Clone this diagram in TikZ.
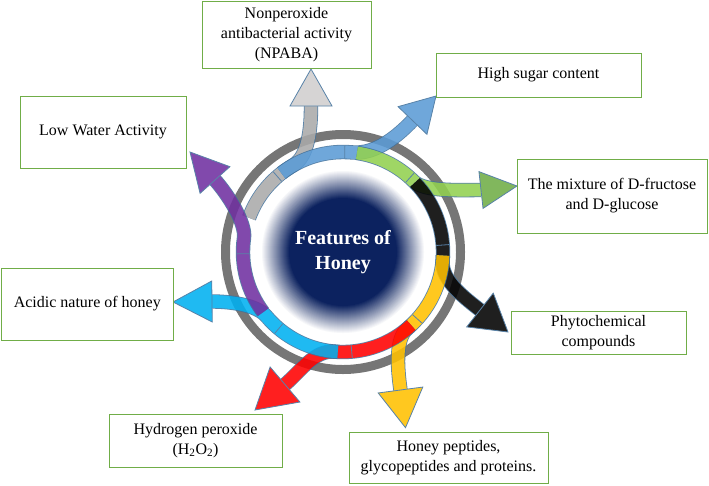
\documentclass[tikz,border=0pt]{standalone}
\usepackage{fontspec}
\setmainfont{Liberation Serif}
\usetikzlibrary{calc}
\definecolor{edgec}{RGB}{65,113,156}
\definecolor{boxc}{RGB}{112,173,71}
\definecolor{ringc}{RGB}{118,118,118}
\definecolor{navyc}{RGB}{12,34,95}
\definecolor{grayb}{RGB}{170,170,170}
\definecolor{grayh}{RGB}{208,206,206}
\definecolor{blueb}{RGB}{91,155,213}
\definecolor{greenb}{RGB}{146,208,80}
\definecolor{greenh}{RGB}{112,173,71}
\definecolor{yellowb}{RGB}{255,192,0}
\definecolor{redb}{RGB}{255,0,0}
\definecolor{cyanb}{RGB}{0,176,240}
\definecolor{purpleb}{RGB}{112,48,160}
\newcommand\arrbody[2]{\draw[edgec,line width=14.4pt] #2; \draw[#1,line width=12.8pt] #2;}
\newcommand\arrhead[4]{\filldraw[fill=#1,draw=edgec,line width=0.8pt,line join=miter] ($#2!#4!90:#3$) -- #3 -- ($#2!#4!-90:#3$) -- cycle;}
\newcommand\bandtick[1]{\draw[edgec,line width=0.8pt] ($(C)+(#1:93.6)$) -- ($(C)+(#1:106.4)$);}
\begin{document}
\begin{tikzpicture}[x=1pt,y=-1pt,
  box/.style={draw=boxc,line width=1pt,fill=white,align=center,inner sep=0pt,
    font=\fontsize{16}{20}\selectfont},
  arrgroup/.style={transparency group,opacity=0.88}]
\useasboundingbox (0,0) rectangle (709,485);
\coordinate (C) at (343,252);
% ring and glow
\draw[ringc,line width=9pt] (C) circle (117.5);
\foreach \r in {82,81,...,52} {
  \pgfmathsetmacro\p{min(100,(82-\r)/28*100)}
  \fill[navyc!\p!white] (C) circle (\r);
}
% gray
\begin{scope}[arrgroup]
\arrbody{grayb}{($(C)+(200:100)$) arc[start angle=200,end angle=240,radius=100] .. controls (308.6,156.4) and (311,128) .. (311,106)}
\bandtick{229}
\arrhead{grayh}{(311,106)}{(311,69)}{21pt}
\end{scope}
% blue
\begin{scope}[arrgroup]
\arrbody{blueb}{($(C)+(232:100)$) arc[start angle=232,end angle=275,radius=100] .. controls (376,155) and (398.7,134.9) .. (412.5,120.5)}
\bandtick{271}
\arrhead{blueb}{(412.5,120.5)}{(436,96)}{20pt}
\end{scope}
% green
\begin{scope}[arrgroup]
\arrbody{greenb}{($(C)+(278:100)$) arc[start angle=278,end angle=315,radius=100] .. controls (424.3,191.9) and (461,190) .. (481,190)}
\bandtick{312}
\arrhead{greenh}{(481,190)}{(517,186)}{18.5pt}
\end{scope}
% black
\begin{scope}[arrgroup]
\arrbody{black}{($(C)+(316:100)$) arc[start angle=316,end angle=365,radius=100] .. controls (440.9,280.6) and (465.9,298.9) .. (480,310)}
\bandtick{356}
\arrhead{black}{(480,310)}{(508,332)}{21.5pt}
\end{scope}
% yellow
\begin{scope}[arrgroup]
\arrbody{yellowb}{($(C)+(2:100)$) arc[start angle=2,end angle=50,radius=100] .. controls (395.8,338.2) and (396.9,365.3) .. (400.5,390)}
\bandtick{42}
\arrhead{yellowb}{(400.5,390)}{(405.5,427.7)}{22.5pt}
\end{scope}
% red
\begin{scope}[arrgroup]
\arrbody{redb}{($(C)+(47:100)$) arc[start angle=47,end angle=95,radius=100] .. controls (314.4,349.9) and (300.2,371.5) .. (285,384.5)}
\bandtick{85}
\arrhead{redb}{(285,384.5)}{(255,410)}{23pt}
\end{scope}
% cyan
\begin{scope}[arrgroup]
\arrbody{cyanb}{($(C)+(93:100)$) arc[start angle=93,end angle=140,radius=100] .. controls (256.8,304.8) and (230,301.5) .. (212,301.5)}
\bandtick{130}
\arrhead{cyanb}{(212,301.5)}{(173,302)}{20.5pt}
\end{scope}
% purple
\begin{scope}[arrgroup]
\arrbody{purpleb}{($(C)+(143:100)$) arc[start angle=143,end angle=188,radius=100] .. controls (246.1,223.2) and (228.3,194.9) .. (215,180)}
\bandtick{179}
\arrhead{purpleb}{(215,180)}{(190,152)}{20pt}
\end{scope}
% title
\node[text=white,align=center,font=\fontsize{20}{25}\selectfont\bfseries] (title) at (343,252) {Features of\\Honey};
% boxes
\node[box,minimum width=169pt,minimum height=67pt] (npaba) at (286.5,34.5) {Nonperoxide\\antibacterial activity\\(NPABA)};
\node[box,minimum width=205pt,minimum height=44pt] (sugar) at (538.5,75) {High sugar content};
\node[box,minimum width=166pt,minimum height=72pt] (water) at (103,132) {Low Water Activity};
\node[box,minimum width=190pt,minimum height=74pt] (fructose) at (612,196) {The mixture of D-fructose\\and D-glucose};
\node[box,minimum width=175pt,minimum height=43pt] (phyto) at (598.5,332.5) {Phytochemical\\compounds};
\node[box,minimum width=172pt,minimum height=72pt] (acidic) at (87.3,304) {Acidic nature of honey};
\node[box,minimum width=173pt,minimum height=53pt] (hydro) at (195.5,440.5) {Hydrogen peroxide\\(H\textsubscript{2}O\textsubscript{2})};
\node[box,minimum width=199pt,minimum height=51pt] (pept) at (448.5,457.5) {Honey peptides,\\glycopeptides and proteins.};
\end{tikzpicture}
\end{document}
